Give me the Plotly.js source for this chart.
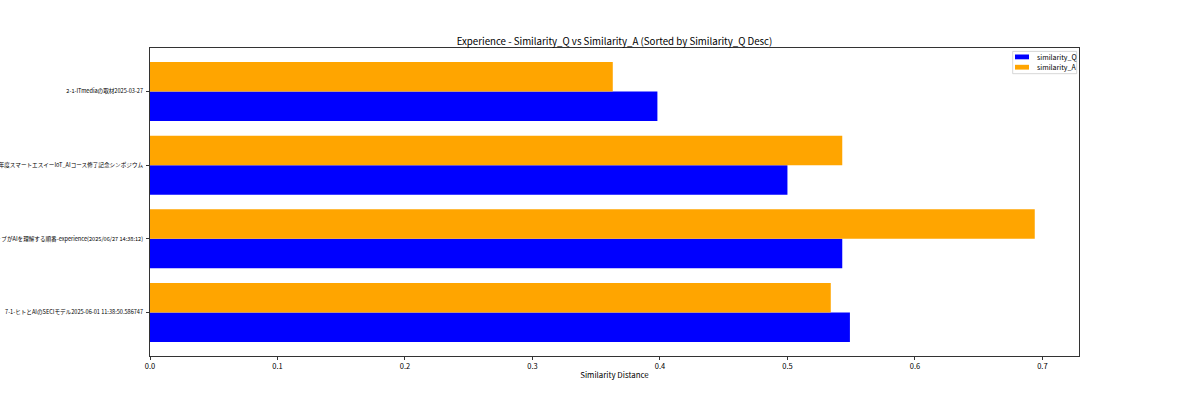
<!DOCTYPE html>
<html>
<head>
<meta charset="utf-8">
<script src="https://cdn.plot.ly/plotly-3.0.1.min.js"></script>
<style>
  html, body { margin: 0; padding: 0; background: #fff; }
  #chart { width: 1200px; height: 400px; }
</style>
</head>
<body>
<div id="chart"></div>
<script>
// Categories listed bottom-to-top (sorted by similarity_Q desc, highest at bottom)
const categories = [
  "7-1-ヒトとAIのSECIモデル2025-06-01 11:38:50.586747",
  "AIネイティブがAIを理解する順番-experience(2025/06/27 14:38:12)",
  "2024年度スマートエスイーIoT_AIコース修了記念シンポジウム",
  "2-1-ITmediaの取材2025-03-27"
];
const similarityQ = [0.549, 0.543, 0.500, 0.398];
const similarityA = [0.534, 0.694, 0.543, 0.363];
const xTickVals = [0, 0.1, 0.2, 0.3, 0.4, 0.5, 0.6, 0.7];
const xTickText = ["0.0", "0.1", "0.2", "0.3", "0.4", "0.5", "0.6", "0.7"];
const seriesNames = ["similarity_Q", "similarity_A"];
const seriesColors = ["#0000ff", "#ffa500"];

const FONT = '"Noto Sans CJK JP", "Noto Sans", sans-serif';
const xMax = Math.max(...similarityQ, ...similarityA) * 1.05;

const traces = [
  {
    type: 'bar', orientation: 'h', name: seriesNames[0],
    y: categories, x: similarityQ,
    marker: { color: seriesColors[0], line: { width: 0 } },
    hoverinfo: 'skip'
  },
  {
    type: 'bar', orientation: 'h', name: seriesNames[1],
    y: categories, x: similarityA,
    marker: { color: seriesColors[1], line: { width: 0 } },
    hoverinfo: 'skip'
  }
];

// Compact matplotlib-style legend built from the series names/colours,
// anchored to the top-right corner of the plot area (pixel offsets).
const legendShapes = [{
  type: 'rect', xref: 'paper', yref: 'paper',
  xsizemode: 'pixel', ysizemode: 'pixel', xanchor: 1, yanchor: 1,
  x0: -66.3, x1: -2.3, y0: -3.4, y1: -25.7,
  line: { color: '#cccccc', width: 0.8 }, fillcolor: 'rgba(255,255,255,0.8)', layer: 'above'
}];
const legendAnnots = [];
seriesNames.forEach((name, i) => {
  const cy = -8.9 - i * 10.3;
  legendShapes.push({
    type: 'rect', xref: 'paper', yref: 'paper',
    xsizemode: 'pixel', ysizemode: 'pixel', xanchor: 1, yanchor: 1,
    x0: -64, x1: -50, y0: cy + 2.4, y1: cy - 2.4,
    line: { width: 0 }, fillcolor: seriesColors[i], layer: 'above'
  });
  legendAnnots.push({
    xref: 'paper', yref: 'paper', x: 1, y: 1, xshift: -44, yshift: cy,
    xanchor: 'left', yanchor: 'middle', showarrow: false,
    text: name, font: { family: FONT, size: 7, color: '#000' }
  });
});

const layout = {
  width: 1200, height: 400,
  paper_bgcolor: '#ffffff', plot_bgcolor: '#ffffff',
  font: { family: FONT, color: '#000', size: 8 },
  margin: { l: 149.5, r: 121, t: 48.3, b: 44.3, pad: 0 },
  barmode: 'group', bargap: 0.2, bargroupgap: 0,
  showlegend: false,
  title: {
    text: 'Experience - Similarity_Q vs Similarity_A (Sorted by Similarity_Q Desc)',
    font: { family: FONT, size: 9.7, color: '#000' },
    x: 0.5, xref: 'paper', xanchor: 'center',
    y: 1, yref: 'paper', yanchor: 'bottom', pad: { b: 3 }
  },
  xaxis: {
    range: [0, xMax], autorange: false,
    tickvals: xTickVals, ticktext: xTickText,
    ticks: 'outside', ticklen: 3, tickwidth: 0.8, tickcolor: '#000',
    showline: true, linecolor: '#000', linewidth: 0.8, mirror: true,
    showgrid: false, zeroline: false,
    tickfont: { family: FONT, size: 7.5, color: '#000' },
    title: { text: 'Similarity Distance', font: { family: FONT, size: 7.9, color: '#000' }, standoff: 2 },
    automargin: false
  },
  yaxis: {
    type: 'category', categoryorder: 'array', categoryarray: categories,
    range: [-0.59, 3.59], autorange: false,
    ticks: 'outside', ticklen: 3, tickwidth: 0.8, tickcolor: '#000',
    showline: true, linecolor: '#000', linewidth: 0.8, mirror: true,
    showgrid: false, zeroline: false,
    tickfont: { family: FONT, size: 5.6, color: '#000' },
    ticklabelstandoff: 2,
    automargin: false
  },
  shapes: legendShapes,
  annotations: legendAnnots
};

Plotly.newPlot('chart', traces, layout, { displayModeBar: false, staticPlot: true });
</script>
</body>
</html>
